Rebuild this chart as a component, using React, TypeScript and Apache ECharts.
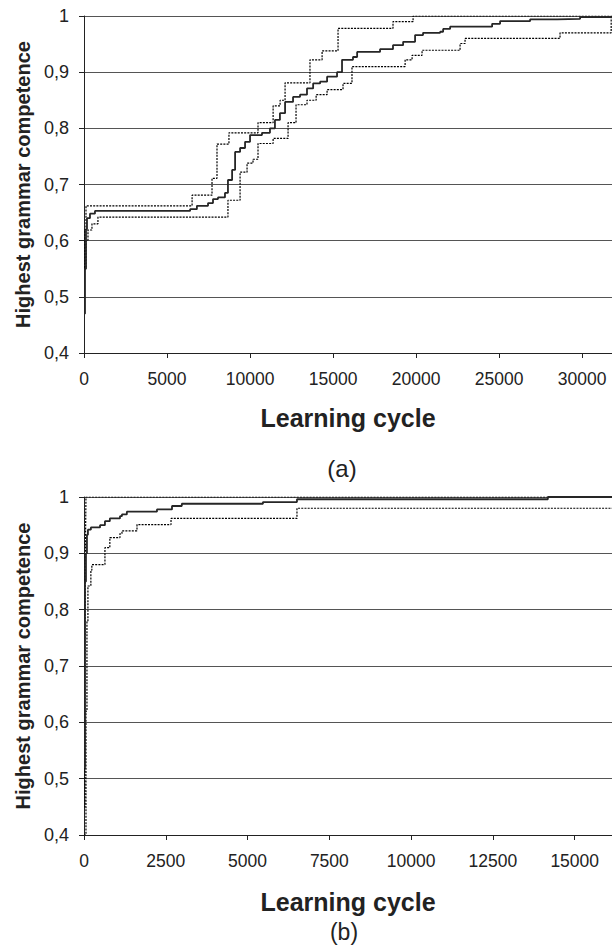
import React, { useEffect, useRef } from "react";
import * as echarts from "echarts";

// ---------- Chart (a) ----------
const aMeanX = [0, 60, 120, 180, 360, 660, 6390, 6800, 7470, 7770, 8070, 8490, 8670, 8920, 9100, 9400, 9700, 10000, 10720, 11200, 11500, 11800, 12110, 12590, 13010, 13430, 13800, 14220, 14640, 15240, 15540, 16200, 16450, 17830, 18610, 19220, 19940, 20420, 21450, 21630, 22050, 24580, 25060, 26870, 28490, 29880, 31800];
const aMeanY = [0.47, 0.55, 0.62, 0.64, 0.648, 0.653, 0.656, 0.662, 0.667, 0.674, 0.677, 0.685, 0.708, 0.726, 0.758, 0.765, 0.776, 0.788, 0.792, 0.8, 0.815, 0.827, 0.847, 0.856, 0.86, 0.871, 0.88, 0.883, 0.892, 0.9, 0.922, 0.927, 0.936, 0.941, 0.948, 0.954, 0.966, 0.97, 0.972, 0.977, 0.981, 0.986, 0.991, 0.994, 0.995, 0.998, 0.998];

const aUpperX = [0, 60, 120, 6510, 7710, 8010, 8730, 10480, 11390, 11810, 12110, 13610, 14340, 15300, 18610, 19820, 31800];
const aUpperY = [0.553, 0.62, 0.662, 0.681, 0.711, 0.772, 0.792, 0.81, 0.84, 0.85, 0.881, 0.922, 0.938, 0.978, 0.99, 1.0, 1.0];

const aLowerX = [0, 120, 240, 480, 840, 8670, 9400, 9820, 10180, 10480, 11390, 12290, 12770, 13430, 13980, 14640, 15600, 16140, 19340, 19760, 20360, 22650, 22950, 28670, 31750, 31800];
const aLowerY = [0.55, 0.601, 0.619, 0.63, 0.642, 0.672, 0.722, 0.738, 0.745, 0.773, 0.782, 0.81, 0.842, 0.85, 0.86, 0.869, 0.88, 0.91, 0.922, 0.93, 0.939, 0.951, 0.96, 0.97, 1.0, 1.0];

// ---------- Chart (b) ----------
const bMeanX = [0, 30, 60, 90, 120, 210, 490, 640, 790, 1100, 1160, 1310, 2230, 2690, 2990, 5470, 6510, 14180, 16140];
const bMeanY = [0.52, 0.85, 0.9, 0.933, 0.942, 0.946, 0.95, 0.957, 0.962, 0.966, 0.969, 0.974, 0.978, 0.984, 0.988, 0.991, 0.996, 1.0, 1.0];

const bUpperX = [0, 30, 45, 60, 16140];
const bUpperY = [0.45, 0.7, 0.92, 1.0, 1.0];

const bLowerX = [0, 60, 90, 120, 210, 240, 640, 790, 1100, 1160, 1620, 2660, 6510, 16140];
const bLowerY = [0.4, 0.62, 0.78, 0.842, 0.87, 0.88, 0.91, 0.928, 0.935, 0.94, 0.951, 0.962, 0.98, 0.98];

const aXTicks = [0, 5000, 10000, 15000, 20000, 25000, 30000];
const bXTicks = [0, 2500, 5000, 7500, 10000, 12500, 15000];
const yTicks = [0.4, 0.5, 0.6, 0.7, 0.8, 0.9, 1];

const X_NAME = "Learning cycle";
const Y_NAME = "Highest grammar competence";
const PANEL_LABELS = ["(a)", "(b)"];

const zip = (xs: number[], ys: number[]) => xs.map((x, i) => [x, ys[i]]);

const FONT = "'Liberation Sans', Arial, sans-serif";
const TEXT = "#222";

function yAxis(gridIndex: number) {
  return {
    type: "value",
    gridIndex,
    min: yTicks[0],
    max: yTicks[yTicks.length - 1],
    interval: 0.1,
    name: Y_NAME,
    nameLocation: "middle",
    nameGap: 49,
    nameTextStyle: { fontFamily: FONT, fontSize: 20, fontWeight: "bold", color: TEXT },
    axisLine: { show: true, lineStyle: { color: "#222", width: 1 } },
    axisTick: { show: true, inside: false, length: 5, lineStyle: { color: "#222" } },
    axisLabel: {
      margin: 15,
      fontFamily: FONT,
      fontSize: 18,
      color: TEXT,
      formatter: (v: number) => {
        const r = Math.round(v * 10) / 10;
        return r === 1 ? "1" : r.toFixed(1).replace(".", ",");
      },
    },
    splitLine: { show: true, lineStyle: { color: "#555", width: 1.2 } },
  };
}

function xAxis(gridIndex: number, ticks: number[], max: number, nameGap: number) {
  const step = ticks[1] - ticks[0];
  return {
    type: "value",
    gridIndex,
    min: 0,
    max,
    interval: step,
    name: X_NAME,
    nameLocation: "middle",
    nameGap,
    nameTextStyle: { fontFamily: FONT, fontSize: 25, fontWeight: "bold", color: TEXT },
    axisLine: { show: true, onZero: false, lineStyle: { color: "#222", width: 1 } },
    axisTick: { show: true, inside: false, length: 5, lineStyle: { color: "#222" } },
    axisLabel: {
      margin: 17,
      fontFamily: FONT,
      fontSize: 17.5,
      color: TEXT,
      showMaxLabel: false,
      formatter: (v: number) => (ticks.includes(v) ? String(v) : ""),
    },
    splitLine: { show: false },
  };
}

function lineSeries(data: number[][], idx: number, kind: "mean" | "bound") {
  return {
    type: "line",
    xAxisIndex: idx,
    yAxisIndex: idx,
    data,
    step: "end",
    symbol: "none",
    silent: true,
    z: kind === "mean" ? 4 : 3,
    lineStyle:
      kind === "mean"
        ? { color: "#262626", width: 1.8, type: "solid" }
        : { color: "#000", width: 1.2, type: [2, 1.2] },
  };
}

export default function App() {
  const ref = useRef<HTMLDivElement>(null);
  useEffect(() => {
    if (!ref.current) return;
    const chart = echarts.init(ref.current, undefined, { renderer: "svg" });
    chart.setOption({
      animation: false,
      backgroundColor: "#fff",
      grid: [
        { left: 84, top: 16, width: 528, height: 337 },
        { left: 84, top: 497, width: 528, height: 338 },
      ],
      xAxis: [xAxis(0, aXTicks, 31800, 52), xAxis(1, bXTicks, 16140, 54)],
      yAxis: [yAxis(0), yAxis(1)],
      series: [
        lineSeries(zip(aUpperX, aUpperY), 0, "bound"),
        lineSeries(zip(aLowerX, aLowerY), 0, "bound"),
        lineSeries(zip(aMeanX, aMeanY), 0, "mean"),
        lineSeries(zip(bUpperX, bUpperY), 1, "bound"),
        lineSeries(zip(bLowerX, bLowerY), 1, "bound"),
        lineSeries(zip(bMeanX, bMeanY), 1, "mean"),
      ],
      graphic: [
        {
          type: "text",
          x: 342,
          y: 468,
          style: {
            text: PANEL_LABELS[0],
            fontFamily: FONT,
            fontSize: 24,
            fill: TEXT,
            textAlign: "center",
            textVerticalAlign: "middle",
          },
        },
        {
          type: "text",
          x: 344,
          y: 932,
          style: {
            text: PANEL_LABELS[1],
            fontFamily: FONT,
            fontSize: 23,
            fill: TEXT,
            textAlign: "center",
            textVerticalAlign: "middle",
          },
        },
      ],
    });
    return () => chart.dispose();
  }, []);
  return (
    <div
      ref={ref}
      style={{ position: "fixed", left: 0, top: 0, width: 612, height: 948, background: "#fff" }}
    />
  );
}
